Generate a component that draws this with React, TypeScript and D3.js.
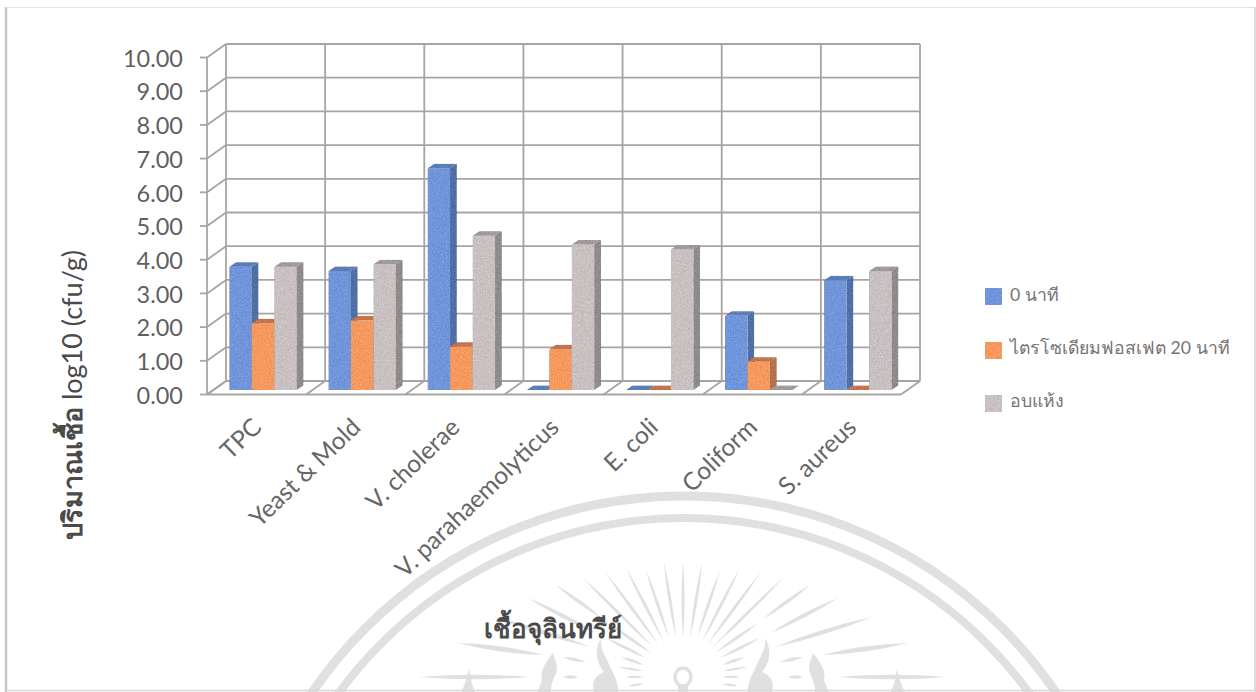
import React from "react";
import * as d3 from "d3";

const categories = ["TPC", "Yeast & Mold", "V. cholerae", "V. parahaemolyticus", "E. coli", "Coliform", "S. aureus"];
const seriesNames = ["0 นาที", "ไตรโซเดียมฟอสเฟต 20 นาที", "อบแห้ง"];
const zeroMinutes = [3.66, 3.53, 6.58, 0, 0, 2.2, 3.26];
const phosphate20 = [1.98, 2.06, 1.28, 1.21, 0, 0.84, 0];
const ovenDried = [3.66, 3.73, 4.58, 4.32, 4.17, 0, 3.53];
const yTicks = [0, 1, 2, 3, 4, 5, 6, 7, 8, 9, 10];
const yTitleThai = "ปริมาณเชื้อ";
const yTitleUnit = " log10 (cfu/g)";
const xTitle = "เชื้อจุลินทรีย์";

const series = [zeroMinutes, phosphate20, ovenDried];
const faceColours = [
  { front: "#7095da", top: "#5a7dbb", side: "#506fa6" },
  { front: "#f5995f", top: "#c8724c", side: "#b5704c" },
  { front: "#c9c0c1", top: "#a19a9b", side: "#8f8b8b" },
];

// Seal strokes on the right half, mirrored about the seal's axis: [x1, y1, x2, y2, width]
const sealRays = [
  [702, 563, 690, 638, 3], [720, 570, 697, 638, 3], [740, 568, 702, 642, 3],
  [761, 572, 707, 645, 3], [784, 577, 712, 648, 3], [810, 585, 763, 619, 3.5],
  [758, 623, 715, 653, 3], [838, 598, 770, 633, 4], [760, 638, 720, 658, 3],
  [872, 617, 775, 647, 4.5], [908, 643, 822, 655, 5], [803, 657, 780, 662, 3.5],
  [745, 657, 722, 665, 3], [747, 667, 723, 671, 2.5], [740, 677, 723, 677, 2.5],
  [947, 677, 837, 677, 4.5], [803, 677, 788, 677, 3.5], [738, 686, 722, 684, 2.5],
];
const sealFlames = [
  "M765 638 C772 650 770 662 762 672 C772 676 776 684 770 696 L748 696 C746 682 754 672 758 662 C762 654 766 648 765 638Z",
  "M813 653 C822 664 826 672 824 680 L830 696 L814 696 C818 684 809 676 809 668 C809 662 812 658 813 653Z",
  "M897 668 C899 678 902 688 907 696 L889 696 C893 688 896 678 897 668Z",
];

const W = 1256;
const H = 692;
const wallLeft = 226;
const wallRight = 920;
const depthX = -19;
const depthY = 13.5;
const barDepthX = 6.7;
const barDepthY = -4.5;
const sealAxis = 683;

const uiFont = "Lato, 'Noto Sans', sans-serif";
const inkColour = "#5f5f5f";
const gridColour = "#a8a4a4";
const sealColour = "#e0e0e0";

const yWall = d3.scaleLinear().domain([0, 10]).range([381, 44]);
const yBar = d3.scaleLinear().domain([0, 10]).range([390, 53]);
const xCategory = d3.scaleBand<string>().domain(categories).range([wallLeft, wallRight]);
const xSeries = d3.scaleBand<number>().domain([0, 1, 2]).range([3.3, 3.3 + 67.5]);

function taperedRay(x1: number, y1: number, x2: number, y2: number, w: number) {
  const dx = x2 - x1;
  const dy = y2 - y1;
  const len = Math.hypot(dx, dy);
  const nx = (-dy / len) * w;
  const ny = (dx / len) * w;
  const mx = (x1 + x2) / 2;
  const my = (y1 + y2) / 2;
  return `M${x1} ${y1}Q${mx + nx} ${my + ny} ${x2} ${y2}Q${mx - nx} ${my - ny} ${x1} ${y1}Z`;
}

function Seal() {
  const rays = sealRays.flatMap(([x1, y1, x2, y2, w]) => [
    taperedRay(x1, y1, x2, y2, w),
    taperedRay(2 * sealAxis - x1, y1, 2 * sealAxis - x2, y2, w),
  ]);
  return (
    <g>
      <circle cx={684} cy={946} r={450} fill="none" stroke={sealColour} strokeWidth={9} />
      <circle cx={684} cy={946} r={428} fill="none" stroke={sealColour} strokeWidth={8} />
      <path d={taperedRay(sealAxis, 562, sealAxis, 638, 3)} fill={sealColour} />
      {rays.map((d, i) => (
        <path key={i} d={d} fill={sealColour} />
      ))}
      {sealFlames.map((d, i) => (
        <g key={i} fill={sealColour}>
          <path d={d} />
          <path d={d} transform={`translate(${2 * sealAxis} 0) scale(-1 1)`} />
        </g>
      ))}
      <ellipse cx={sealAxis} cy={677} rx={8} ry={9} fill="#fff" stroke={sealColour} strokeWidth={3.5} />
      <rect x={sealAxis - 5} y={686} width={10} height={8} fill={sealColour} />
    </g>
  );
}

function Walls() {
  const x0 = wallLeft;
  const x1 = wallRight;
  const dividers = [...categories.map((c) => xCategory(c) as number), x1];
  return (
    <g stroke={gridColour} strokeWidth={1.8} fill="none">
      {yTicks.map((t) => {
        const y = yWall(t);
        return (
          <g key={t}>
            <line x1={x0} x2={x1} y1={y} y2={y} />
            <line x1={x0} x2={x0 + depthX} y1={y} y2={y + depthY} />
            <line x1={x0 + depthX} x2={x0 + depthX - 7} y1={y + depthY} y2={y + depthY} />
          </g>
        );
      })}
      {dividers.map((x) => (
        <g key={x}>
          <line x1={x} x2={x} y1={yWall(10)} y2={yWall(0)} />
          <line x1={x} x2={x + depthX} y1={yWall(0)} y2={yWall(0) + depthY} />
        </g>
      ))}
      <line x1={x0 + depthX} x2={x0 + depthX} y1={yWall(10) + depthY} y2={yWall(0) + depthY} />
      <line x1={x0 + depthX} x2={x1 + depthX} y1={yWall(0) + depthY} y2={yWall(0) + depthY} strokeWidth={2.2} />
    </g>
  );
}

function Bars() {
  return (
    <g filter="url(#grain)">
      {categories.map((c, i) =>
        series.map((values, s) => {
          const v = values[i];
          const x = (xCategory(c) as number) + (xSeries(s) as number);
          const w = xSeries.bandwidth();
          const y = yBar(v);
          const base = yBar(0);
          const col = faceColours[s];
          return (
            <g key={`${c}-${s}`}>
              {v > 0 && <path d={`M${x + w} ${y}L${x + w + barDepthX} ${y + barDepthY}V${base + barDepthY}L${x + w} ${base}Z`} fill={col.side} />}
              <path d={`M${x} ${y}L${x + barDepthX} ${y + barDepthY}H${x + w + barDepthX}L${x + w} ${y}Z`} fill={col.top} />
              {v > 0 && <rect x={x} y={y} width={w} height={base - y} fill={col.front} />}
            </g>
          );
        })
      )}
    </g>
  );
}

function Legend() {
  const rows = [300.5, 353.5, 406.5];
  return (
    <g>
      {seriesNames.map((name, i) => (
        <g key={name}>
          <rect x={985} y={[288, 342, 395][i]} width={17} height={17} fill={faceColours[i].front} filter="url(#grain)" />
          <text x={1010} y={rows[i]} fontSize={17.7} fill="#747474" fontFamily={uiFont}>
            {name}
          </text>
        </g>
      ))}
    </g>
  );
}

export default function App() {
  return (
    <svg width={W} height={H} viewBox={`0 0 ${W} ${H}`} style={{ position: "absolute", left: 0, top: 0, display: "block", background: "#fff" }}>
      <defs>
        <filter id="grain" x="0" y="0" width="100%" height="100%" colorInterpolationFilters="sRGB">
          <feTurbulence type="fractalNoise" baseFrequency="0.75" numOctaves={2} seed={4} result="noise" />
          <feColorMatrix in="noise" type="matrix" values="1 0 0 0 0 1 0 0 0 0 1 0 0 0 0 0 0 0 0 1" result="mono" />
          <feComposite in="SourceGraphic" in2="mono" operator="arithmetic" k1={0} k2={1} k3={0.22} k4={-0.11} result="mixed" />
          <feComposite in="mixed" in2="SourceAlpha" operator="in" />
        </filter>
      </defs>

      <Seal />

      {/* Scanned page frame */}
      <path d="M6 692V7" stroke="#c6c6c6" strokeWidth={2.5} fill="none" />
      <path d="M6 7.5H1255" stroke="#e4e4e4" strokeWidth={1.2} fill="none" />
      <path d="M1255 7V692" stroke="#d0d0d0" strokeWidth={1.5} fill="none" />
      <path d="M6 690.5H1256" stroke="#d8d8d8" strokeWidth={1.5} fill="none" />

      <Walls />
      <Bars />

      {yTicks.map((t) => (
        <text key={t} x={183} y={yWall(t) + depthY + 1} dy="0.35em" textAnchor="end" fontSize={23.5} fill={inkColour} fontFamily={uiFont}>
          {t.toFixed(2)}
        </text>
      ))}

      {categories.map((c) => (
        <text
          key={c}
          transform={`translate(${(xCategory(c) as number) + 37} 429) rotate(-44)`}
          textAnchor="end"
          fontSize={24.5}
          fill="#666666"
          fontFamily={uiFont}
        >
          {c}
        </text>
      ))}

      <text transform="translate(82 395) rotate(-90)" textAnchor="middle" fontSize={27} fill="#4a4a4a" fontFamily={uiFont}>
        <tspan fontWeight={700}>{yTitleThai}</tspan>
        <tspan>{yTitleUnit}</tspan>
      </text>
      <text x={553} y={638} textAnchor="middle" fontSize={26} fontWeight={700} fill="#4a4a4a" fontFamily={uiFont}>
        {xTitle}
      </text>

      <Legend />
    </svg>
  );
}
